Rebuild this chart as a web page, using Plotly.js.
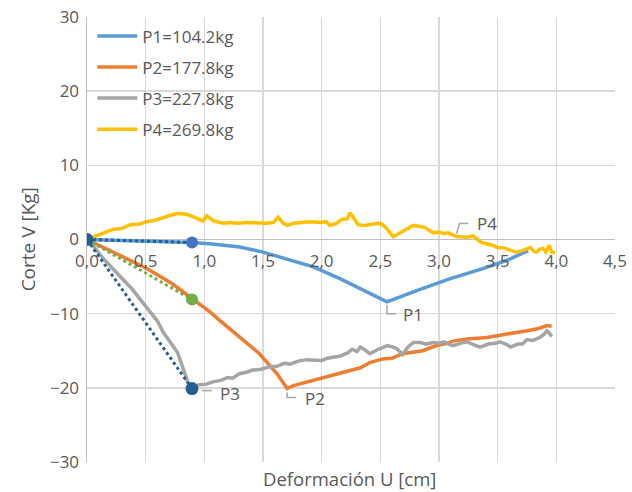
<!DOCTYPE html>
<html>
<head>
<meta charset="utf-8">
<script src="https://cdn.plot.ly/plotly-3.0.1.min.js"></script>
<style>
  html, body { margin: 0; padding: 0; background: #ffffff; }
  #chart { width: 632px; height: 492px; }
</style>
</head>
<body>
<div id="chart"></div>
<script>
// Shear (Corte V) versus displacement (Deformación U) for four load levels.

const seriesNames = ['P1=104.2kg', 'P2=177.8kg', 'P3=227.8kg', 'P4=269.8kg'];
const pointLabels = ['P1', 'P2', 'P3', 'P4'];

const p1X = [0, 0.45, 0.895, 1.07, 1.30, 1.50, 1.70, 1.93, 2.16, 2.39, 2.557, 2.81, 3.09, 3.38, 3.58, 3.76];
const p1Y = [0, -0.2, -0.4, -0.6, -1.0, -1.7, -2.6, -3.7, -5.3, -7.1, -8.4, -6.9, -5.3, -3.9, -2.8, -1.5];

const p2X = [0, 0.22, 0.51, 0.73, 0.90, 1.05, 1.13, 1.30, 1.47, 1.62, 1.705, 1.76, 1.93, 2.10, 2.33, 2.41,
  2.52, 2.60, 2.69, 2.86, 2.98, 3.07, 3.12, 3.24, 3.41, 3.52, 3.69, 3.75, 3.85, 3.92, 3.96];
const p2Y = [0, -1.7, -3.9, -6.0, -8.0, -9.8, -10.9, -13.2, -15.4, -18.1, -20.1, -19.7, -19.0, -18.2, -17.3, -16.6,
  -16.1, -16.0, -15.4, -15.0, -14.3, -14.0, -13.7, -13.4, -13.2, -12.9, -12.5, -12.3, -12.0, -11.6, -11.7];

const p3X = [0, 0.07, 0.14, 0.22, 0.31, 0.38, 0.45, 0.54, 0.60, 0.65, 0.71, 0.77, 0.82, 0.86, 0.895, 0.95,
  1.02, 1.07, 1.14, 1.20, 1.24, 1.30, 1.36, 1.41, 1.48, 1.55, 1.62, 1.68, 1.73, 1.80, 1.87, 1.93, 2.00,
  2.05, 2.10, 2.16, 2.22, 2.26, 2.30, 2.33, 2.37, 2.41, 2.47, 2.52, 2.56, 2.61, 2.64, 2.69, 2.73, 2.78,
  2.84, 2.89, 2.95, 3.00, 3.04, 3.08, 3.12, 3.18, 3.24, 3.30, 3.35, 3.42, 3.48, 3.52, 3.57, 3.61, 3.67,
  3.71, 3.75, 3.80, 3.86, 3.90, 3.92, 3.94, 3.96];
const p3Y = [0, -1.2, -2.6, -3.9, -5.3, -6.6, -8.0, -9.8, -11.0, -12.5, -13.8, -15.2, -17.4, -19.3, -20.0, -19.6,
  -19.5, -19.2, -19.0, -18.6, -18.7, -18.1, -17.9, -17.6, -17.5, -17.2, -17.1, -16.7, -16.8, -16.4, -16.2, -16.3, -16.3,
  -16.0, -15.9, -15.7, -15.3, -14.8, -15.1, -14.5, -14.9, -15.4, -14.9, -14.6, -14.3, -14.5, -14.7, -15.5, -14.6, -13.9,
  -13.9, -14.1, -13.9, -14.0, -13.8, -14.1, -14.3, -14.0, -13.8, -14.2, -14.5, -14.1, -14.0, -13.8, -14.1, -14.5, -14.1,
  -14.1, -13.5, -13.6, -13.2, -12.7, -12.3, -12.6, -13.1];

const p4X = [0, 0.05, 0.11, 0.17, 0.22, 0.30, 0.37, 0.45, 0.51, 0.58, 0.65, 0.72, 0.77, 0.85, 0.90, 0.94,
  0.99, 1.02, 1.05, 1.08, 1.11, 1.16, 1.22, 1.29, 1.36, 1.44, 1.53, 1.59, 1.63, 1.67, 1.71, 1.76, 1.82,
  1.90, 1.99, 2.04, 2.07, 2.13, 2.17, 2.22, 2.24, 2.27, 2.31, 2.37, 2.44, 2.50, 2.54, 2.57, 2.61, 2.67,
  2.72, 2.78, 2.83, 2.88, 2.95, 3.00, 3.04, 3.08, 3.15, 3.20, 3.24, 3.29, 3.33, 3.36, 3.41, 3.46, 3.50,
  3.55, 3.60, 3.66, 3.71, 3.75, 3.78, 3.81, 3.83, 3.86, 3.89, 3.91, 3.94, 3.96, 3.99];
const p4Y = [0, 0.3, 0.6, 1.0, 1.35, 1.5, 2.0, 2.1, 2.4, 2.6, 3.0, 3.3, 3.5, 3.4, 3.1, 2.8,
  2.5, 3.2, 2.8, 2.5, 2.4, 2.2, 2.3, 2.2, 2.3, 2.2, 2.2, 2.3, 3.0, 2.2, 1.9, 2.2, 2.3,
  2.4, 2.3, 2.4, 1.9, 2.2, 2.7, 2.8, 3.6, 3.0, 2.0, 1.9, 2.1, 2.2, 1.7, 1.2, 0.4, 0.9,
  1.4, 1.9, 1.8, 1.6, 0.9, 1.0, 0.8, 0.9, 0.4, 0.3, 0.3, 0.5, 0.0, -0.4, -0.6, -0.8, -1.1,
  -1.1, -1.4, -1.7, -1.5, -1.2, -1.1, -1.6, -1.7, -1.3, -1.2, -1.7, -0.8, -1.7, -1.8];

// Initial stiffness secants: from the origin to the knee point of P1, P2, P3
const secantX = [0, 0.895];
const secantP1 = [0, -0.4];
const secantP2 = [0, -8.1];
const secantP3 = [0, -20.1];

// Point on the P4 curve that carries its label
const p4LabelX = 3.15;

const xTicks = [0, 0.5, 1, 1.5, 2, 2.5, 3, 3.5, 4, 4.5];
const yTicks = [-30, -20, -10, 0, 10, 20, 30];

const colors = ['#5B9BD5', '#ED7D31', '#A5A5A5', '#FFC000'];
const darkBlue = '#255E91';
const midBlue = '#4472C4';
const green = '#70AD47';
const textColor = '#595959';
const FONT = '"Open Sans", "Noto Sans", sans-serif';

const curves = [[p1X, p1Y], [p2X, p2Y], [p3X, p3Y], [p4X, p4Y]];

const traces = curves.map((c, i) => ({
  x: c[0], y: c[1], type: 'scatter', mode: 'lines',
  name: seriesNames[i], legendgroup: 'g' + i,
  line: { color: colors[i], width: 3.5, shape: 'linear' },
  hoverinfo: 'skip'
}));

function secant(ys, color) {
  return {
    x: secantX, y: ys, type: 'scatter', mode: 'lines',
    line: { color: color, width: 3, dash: 'dot' },
    showlegend: false, hoverinfo: 'skip'
  };
}
traces.push(secant(secantP1, darkBlue));
traces.push(secant(secantP2, green));
traces.push(secant(secantP3, darkBlue));

function marker(x, y, color, size) {
  return {
    x: [x], y: [y], type: 'scatter', mode: 'markers',
    marker: { color: color, size: size, line: { width: 0 } },
    showlegend: false, hoverinfo: 'skip'
  };
}
traces.push(marker(secantX[1], secantP1[1], midBlue, 12));
traces.push(marker(secantX[1], secantP2[1], green, 12));
traces.push(marker(secantX[1], secantP3[1], darkBlue, 13));
traces.push(marker(secantX[0], secantP1[0], darkBlue, 13));

// Label anchors: P1 and P2 at the curve minimum, P3 at its knee, P4 on its curve
function minPoint(xs, ys) {
  let k = 0;
  ys.forEach((v, j) => { if (v < ys[k]) k = j; });
  return [xs[k], ys[k]];
}
const p4k = p4X.indexOf(p4LabelX);
const anchors = [
  minPoint(p1X, p1Y),
  minPoint(p2X, p2Y),
  [secantX[1], secantP3[1]],
  [p4X[p4k], p4Y[p4k]]
];
// Callout leader paths (pixels relative to anchor, y up) and label offsets
const leaders = ['M0,-3 L0,-12 L9,-12', 'M0,-4 L0,-9 L9,-9', 'M10,-2 L20,-2', 'M0,3 L3,13 L12,13'];
const labelShift = [[26, -13], [28, -10], [38, -5], [30, 13]];

const shapes = anchors.map((a, i) => ({
  type: 'path', xref: 'x', yref: 'y',
  xsizemode: 'pixel', ysizemode: 'pixel',
  xanchor: a[0], yanchor: a[1],
  path: leaders[i],
  line: { color: '#A6A6A6', width: 1.5 }
}));

const annotations = anchors.map((a, i) => ({
  x: a[0], y: a[1], xref: 'x', yref: 'y',
  text: pointLabels[i], showarrow: false,
  xshift: labelShift[i][0], yshift: labelShift[i][1],
  xanchor: 'center', yanchor: 'middle',
  font: { family: FONT, size: 17, color: textColor }
}));
annotations.push({
  text: 'Deformación U [cm]', xref: 'paper', yref: 'paper',
  x: 0.497, y: -0.036, xanchor: 'center', yanchor: 'middle', showarrow: false,
  font: { family: FONT, size: 18.5, color: textColor }
});
annotations.push({
  text: 'Corte V [Kg]', xref: 'paper', yref: 'paper',
  x: -0.112, y: 0.5, xanchor: 'center', yanchor: 'middle', showarrow: false,
  textangle: -90,
  font: { family: FONT, size: 19, color: textColor }
});

const layout = {
  width: 632, height: 492,
  margin: { l: 87, r: 17, t: 17, b: 30 },
  paper_bgcolor: '#ffffff', plot_bgcolor: '#ffffff',
  separators: ',.',
  font: { family: FONT, size: 17, color: textColor },
  xaxis: {
    range: [0, 4.5], tickvals: xTicks, tickformat: '.1f',
    anchor: 'free', position: 0.5,
    showgrid: true, gridcolor: '#D9D9D9', gridwidth: 1.5,
    zeroline: false, showline: false, ticks: '',
    ticklabelstandoff: 9,
    tickfont: { family: FONT, size: 17, color: textColor }
  },
  yaxis: {
    range: [-30, 30], tickvals: yTicks,
    showgrid: true, gridcolor: '#D9D9D9', gridwidth: 1.5,
    zeroline: true, zerolinecolor: '#BFBFBF', zerolinewidth: 1.5,
    showline: true, linecolor: '#BFBFBF', linewidth: 1.5,
    ticks: '', ticklabelstandoff: 3,
    tickfont: { family: FONT, size: 17, color: textColor }
  },
  showlegend: true,
  legend: {
    x: 0.01, y: 0.997, xanchor: 'left', yanchor: 'top',
    bgcolor: 'rgba(255,255,255,0)', borderwidth: 0,
    traceorder: 'grouped', tracegroupgap: 6, itemwidth: 40,
    font: { family: FONT, size: 17, color: textColor }
  },
  shapes: shapes,
  annotations: annotations,
  hovermode: false
};

Plotly.newPlot('chart', traces, layout, { displayModeBar: false, staticPlot: true });
</script>
</body>
</html>
